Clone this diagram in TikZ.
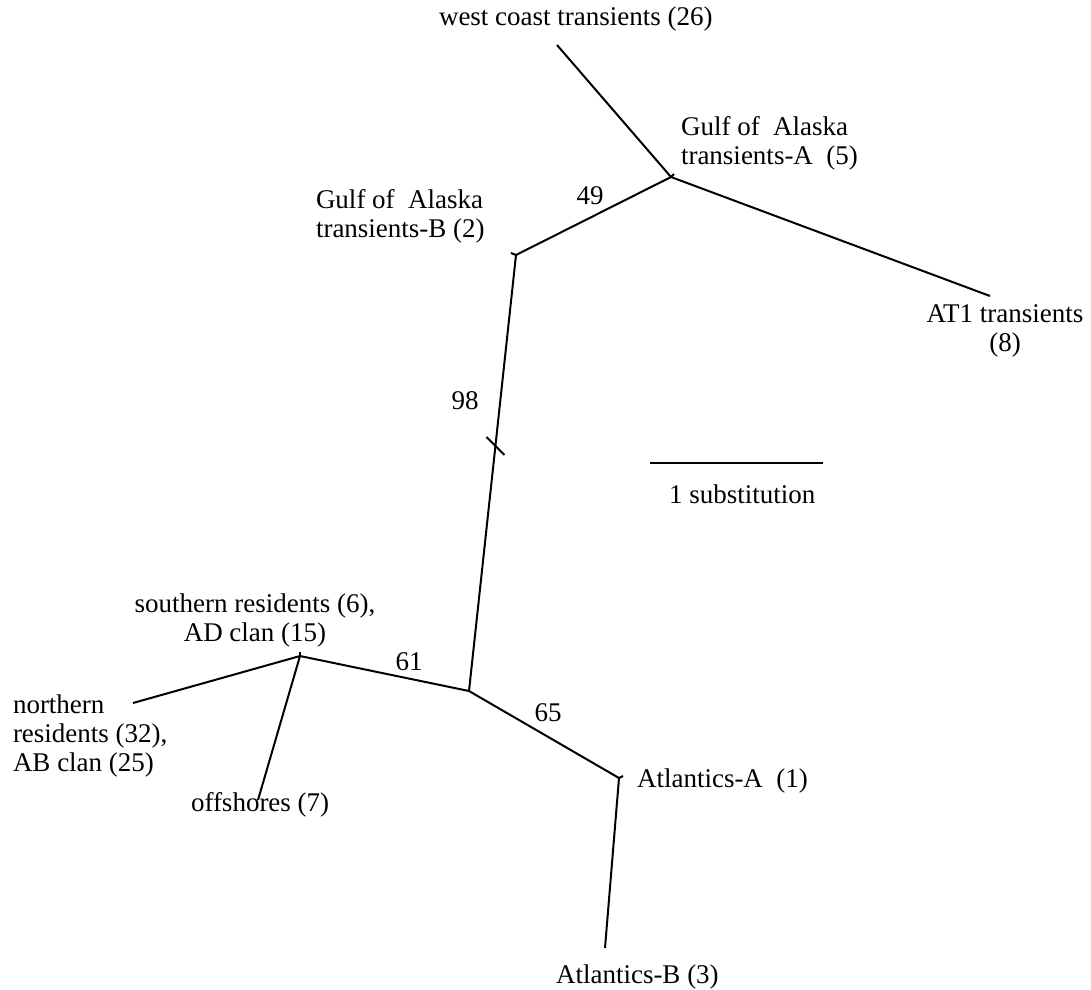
\documentclass[tikz,border=0pt]{standalone}
\usepackage{fontspec}
\setmainfont{Liberation Serif}
\usetikzlibrary{calc}

\begin{document}
\begin{tikzpicture}[x=1pt, y=-1pt, line width=2pt,
		taxon/.style={inner sep=0pt, font=\fontsize{27}{29}\selectfont},
		support/.style={inner sep=0pt, font=\fontsize{27}{29}\selectfont}]
					\useasboundingbox (0,0) rectangle (1091,989);
					% Junctions and tips:
					\coordinate (WC) at (557,45);
					\coordinate (GA) at (671,177);
					\coordinate (AT) at (990,296);
					\coordinate (GB) at (516,255);
					\coordinate (RT) at (469,691);
					\coordinate (SR) at (300,656);
					\coordinate (NR) at (133,703);
					\coordinate (OF) at (258,800);
					\coordinate (AA) at (619,778);
					\coordinate (AB) at (605,948);
					\coordinate (BM) at ($(GB)!0.438!(RT)$);
					\coordinate (S1) at (650,463);
					\coordinate (S2) at (823,463);
					% Branches:
					\draw (WC) -- (GA) -- (AT);
					\draw (GA) -- (GB) -- (RT);
					\draw (RT) -- (SR) -- (NR);
					\draw (SR) -- (OF);
					\draw (RT) -- (AA) -- (AB);
					\draw (S1) -- (S2);
					% Ticks:
					\draw (GA) -- ++(3,-3);
					\draw (GB) -- ++(-5,-2);
					\draw (SR) -- ++(0,-4);
					\draw (AA) -- ++(4,-2);
					\draw ([shift={(-9,-9)}]BM) -- ([shift={(9,9)}]BM);
					% Labels (base of a multi-line node is its last line):
					\node[taxon, anchor=base west] (wct) at (438,25) {west coast transients (26)};
					\node[taxon, anchor=base west, align=left] (gat) at (680,164) {Gulf of\ \ Alaska\\transients-A\ \ (5)};
					\node[taxon, anchor=base west, align=left] (gbt) at (315,237) {Gulf of\ \ Alaska\\transients-B (2)};
					\node[taxon, anchor=base, align=center] (att) at (1005,351) {AT1 transients\\(8)};
					\node[taxon, anchor=base, align=center] (srt) at (255,641) {southern residents (6),\\AD clan (15)};
					\node[taxon, anchor=base west, align=left] (nrt) at (12,771) {northern\\residents (32),\\AB clan (25)};
					\node[taxon, anchor=base west] (oft) at (190,811) {offshores (7)};
					\node[taxon, anchor=base west] (aat) at (636,787) {Atlantics-A\ \ (1)};
					\node[taxon, anchor=base west] (abt) at (555,983) {Atlantics-B (3)};
					\node[taxon, anchor=base west] (sbt) at (668,503) {1 substitution};
					\node[support] (b49) at (590,196) {49};
					\node[support] (b98) at (465,401) {98};
					\node[support] (b61) at (409,662) {61};
					\node[support] (b65) at (548,713) {65};
				\end{tikzpicture}
\end{document}
